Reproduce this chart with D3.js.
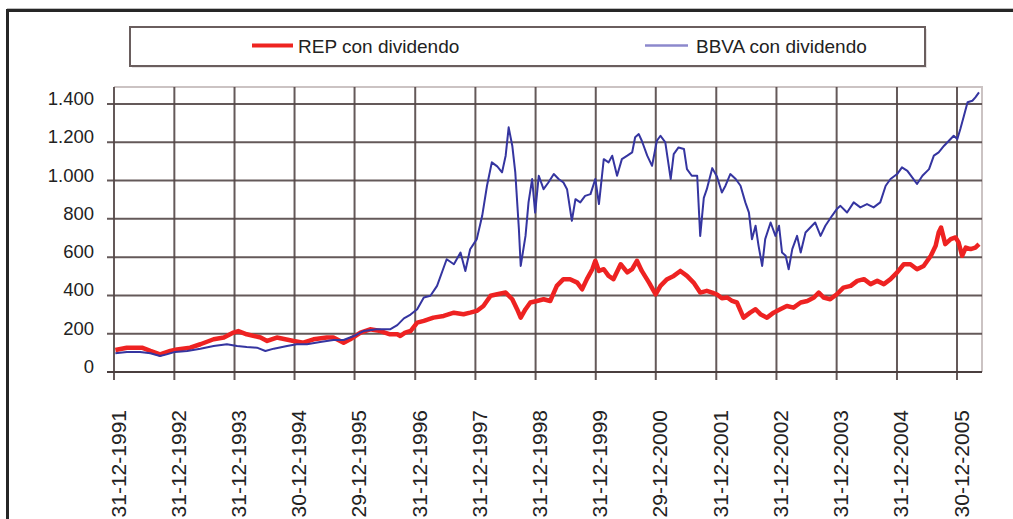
<!DOCTYPE html>
<html>
<head>
<meta charset="utf-8">
<script src="https://cdn.jsdelivr.net/npm/d3@7"></script>
<style>
  html, body { margin: 0; padding: 0; background: #fff; overflow: hidden; }
  svg { display: block; font-family: "Liberation Sans", Arial, sans-serif; }
</style>
</head>
<body>
<svg id="chart" width="1013" height="519"></svg>
<script>
// ---------- DATA ----------
const seriesNames = ["REP con dividendo", "BBVA con dividendo"];

const tickLabels = ["31-12-1991","31-12-1992","31-12-1993","30-12-1994","29-12-1995",
  "31-12-1996","31-12-1997","31-12-1998","31-12-1999","29-12-2000","31-12-2001",
  "31-12-2002","31-12-2003","31-12-2004","30-12-2005"];

const yTickValues = [0, 200, 400, 600, 800, 1000, 1200, 1400];

const repYears = [1992.02,1992.21,1992.46,1992.60,1992.76,1992.93,1993.04,1993.26,1993.43,1993.65,
  1993.82,1993.98,1994.06,1994.20,1994.43,1994.54,1994.70,1994.98,1995.14,1995.31,
  1995.53,1995.64,1995.81,1995.92,1996.09,1996.25,1996.42,1996.58,1996.70,1996.75,
  1996.83,1996.92,1997.03,1997.14,1997.30,1997.47,1997.64,1997.80,1997.91,1998.02,
  1998.13,1998.25,1998.36,1998.50,1998.61,1998.69,1998.75,1998.83,1998.91,1999.02,
  1999.13,1999.24,1999.35,1999.46,1999.57,1999.69,1999.77,1999.85,1999.94,1999.99,
  2000.05,2000.13,2000.21,2000.29,2000.41,2000.52,2000.60,2000.68,2000.76,2000.88,
  2000.99,2001.07,2001.18,2001.29,2001.40,2001.51,2001.62,2001.73,2001.84,2001.93,
  2002.01,2002.09,2002.18,2002.26,2002.34,2002.45,2002.56,2002.65,2002.73,2002.84,
  2002.95,2003.06,2003.17,2003.28,2003.40,2003.51,2003.62,2003.70,2003.78,2003.89,
  2004.00,2004.11,2004.23,2004.34,2004.45,2004.56,2004.67,2004.78,2004.89,2005.00,
  2005.11,2005.22,2005.33,2005.44,2005.56,2005.64,2005.69,2005.73,2005.80,2005.89,
  2005.97,2006.02,2006.08,2006.14,2006.22,2006.30,2006.36];
const repValues = [115,127,127,110,92,110,118,127,145,171,
  180,206,214,197,180,162,180,162,153,171,
  180,180,153,171,206,223,214,197,197,188,
  206,214,258,267,284,293,310,302,310,319,
  345,398,406,415,380,328,284,328,363,371,
  380,371,450,485,485,467,432,485,537,581,
  528,537,502,485,563,520,537,581,528,467,
  406,450,485,502,528,502,467,415,424,415,
  405,385,389,371,363,284,310,328,302,284,
  310,328,345,336,363,371,389,415,389,380,
  406,441,450,476,485,459,476,459,485,520,
  563,563,537,554,607,659,729,755,668,694,
  703,677,607,650,642,650,668];

const bbvaYears = [1992.02,1992.21,1992.43,1992.60,1992.76,1992.87,1993.01,1993.21,1993.43,1993.65,
  1993.87,1994.04,1994.20,1994.37,1994.51,1994.65,1994.87,1995.03,1995.20,1995.42,
  1995.64,1995.81,1995.98,1996.14,1996.36,1996.58,1996.70,1996.81,1996.92,1997.03,
  1997.14,1997.25,1997.36,1997.52,1997.64,1997.75,1997.83,1997.91,1998.02,1998.11,
  1998.19,1998.27,1998.36,1998.44,1998.50,1998.55,1998.61,1998.66,1998.72,1998.75,
  1998.83,1998.88,1998.94,1998.99,1999.05,1999.13,1999.21,1999.30,1999.38,1999.46,
  1999.52,1999.60,1999.66,1999.74,1999.82,1999.91,1999.99,2000.05,2000.13,2000.21,
  2000.27,2000.35,2000.43,2000.52,2000.60,2000.65,2000.71,2000.76,2000.85,2000.93,
  2001.01,2001.07,2001.15,2001.24,2001.29,2001.37,2001.46,2001.51,2001.59,2001.68,
  2001.73,2001.79,2001.84,2001.93,2002.01,2002.09,2002.15,2002.23,2002.32,2002.40,
  2002.48,2002.54,2002.59,2002.65,2002.70,2002.76,2002.81,2002.90,2002.98,2003.04,
  2003.09,2003.15,2003.20,2003.26,2003.34,2003.40,2003.48,2003.56,2003.64,2003.73,
  2003.81,2003.92,2004.00,2004.06,2004.17,2004.28,2004.39,2004.50,2004.61,2004.72,
  2004.81,2004.89,2005.00,2005.08,2005.17,2005.25,2005.33,2005.42,2005.53,2005.61,
  2005.69,2005.78,2005.86,2005.94,2006.00,2006.05,2006.11,2006.17,2006.25,2006.30,
  2006.36];
const bbvaValues = [98,105,105,98,84,92,105,110,122,136,
  145,136,131,127,110,122,136,145,145,157,
  167,167,188,214,223,223,245,280,300,328,
  389,398,450,589,563,624,528,641,694,816,
  973,1095,1074,1043,1130,1278,1182,1043,746,554,
  711,886,1008,833,1025,955,990,1034,1008,990,
  955,790,903,886,920,929,1008,877,1112,1095,
  1130,1025,1112,1130,1147,1226,1243,1208,1130,1077,
  1208,1234,1200,1008,1138,1173,1165,1060,1025,1025,
  711,910,955,1065,1020,938,973,1034,1008,973,
  886,833,694,764,659,554,694,781,711,764,
  624,607,537,642,711,624,729,755,781,711,
  764,816,851,868,833,886,860,877,860,886,
  973,1008,1034,1069,1051,1017,982,1025,1060,1130,
  1147,1182,1208,1234,1217,1269,1339,1409,1417,1435,
  1461];

// ---------- HELPERS ----------
function parseTick(s) { const [d, m, y] = s.split("-").map(Number); return new Date(y, m - 1, d); }
function fromDecimalYear(v) {
  const y = Math.floor(v);
  const start = new Date(y, 0, 1), end = new Date(y + 1, 0, 1);
  return new Date(start.getTime() + (v - y) * (end - start));
}
const tickDates = tickLabels.map(parseTick);

const repData = repYears.map((t, i) => ({ date: fromDecimalYear(t), value: repValues[i] }));
const bbvaData = bbvaYears.map((t, i) => ({ date: fromDecimalYear(t), value: bbvaValues[i] }));

// ---------- LAYOUT ----------
const svg = d3.select("#chart");
const plotLeft = 114, firstTickX = 114, lastTickX = 957, plotRight = 982;
const plotTop = 87, plotBottom = 372;

const x = d3.scaleTime()
  .domain([tickDates[0], tickDates[tickDates.length - 1]])
  .range([firstTickX, lastTickX]);
const y = d3.scaleLinear().domain([0, 1400]).range([plotBottom, 104]);

const locale = d3.formatLocale({ decimal: ",", thousands: ".", grouping: [3], currency: ["", " €"] });
const fmt = locale.format(",");

// outer frame
svg.append("line").attr("x1", 7).attr("x2", 1013).attr("y1", 8.5).attr("y2", 8.5)
  .attr("stroke", "#bdbdbd").attr("stroke-width", 1);
svg.append("path").attr("d", "M7.5,540 V10.5 H1020")
  .attr("fill", "none").attr("stroke", "#262626").attr("stroke-width", 3);

// legend
const lg = svg.append("g");
lg.append("rect").attr("x", 132).attr("y", 29).attr("width", 795).attr("height", 39)
  .attr("fill", "#d6d0d0").attr("opacity", 0.6);
lg.append("rect").attr("x", 130).attr("y", 27).attr("width", 795).attr("height", 39)
  .attr("fill", "#fff").attr("stroke", "#6a5e5e").attr("stroke-width", 2);
const legendItems = [
  { name: seriesNames[0], x1: 252, x2: 293, tx: 298, color: "#ee2420", w: 4 },
  { name: seriesNames[1], x1: 645, x2: 688, tx: 696, color: "#8c88cc", w: 2.5 }
];
legendItems.forEach(d => {
  lg.append("line").attr("x1", d.x1).attr("x2", d.x2).attr("y1", 45.5).attr("y2", 45.5)
    .attr("stroke", d.color).attr("stroke-width", d.w);
  lg.append("text").attr("x", d.tx).attr("y", 53).attr("font-size", "19px")
    .attr("fill", "#222").text(d.name);
});

// plot frame (light)
svg.append("path")
  .attr("d", `M${plotLeft},${plotTop} H${plotRight} V${plotBottom}`)
  .attr("fill", "none").attr("stroke", "#cbc3c3").attr("stroke-width", 2);

// horizontal gridlines
const gridColor = "#544848";
svg.append("g").selectAll("line").data(yTickValues).join("line")
  .attr("x1", 107).attr("x2", plotRight)
  .attr("y1", d => y(d)).attr("y2", d => y(d))
  .attr("stroke", gridColor).attr("stroke-width", 2).attr("opacity", 0.9);

// vertical gridlines + ticks
svg.append("g").selectAll("line").data(tickDates).join("line")
  .attr("x1", d => x(d)).attr("x2", d => x(d))
  .attr("y1", plotTop).attr("y2", 380)
  .attr("stroke", gridColor).attr("stroke-width", 2).attr("opacity", 0.9);

// x axis baseline
svg.append("line").attr("x1", 107).attr("x2", plotRight).attr("y1", plotBottom).attr("y2", plotBottom)
  .attr("stroke", "#4a3f3f").attr("stroke-width", 2.2);

// y labels
svg.append("g").selectAll("text").data(yTickValues).join("text")
  .attr("x", 94).attr("y", d => y(d) + 1)
  .attr("text-anchor", "end").attr("font-size", "18.5px").attr("fill", "#222")
  .text(d => fmt(d));

// x labels (rotated)
svg.append("g").selectAll("text").data(tickDates).join("text")
  .attr("transform", (d) => `translate(${x(d) + 11.5},410) rotate(-90)`)
  .attr("text-anchor", "end").attr("font-size", "21px").attr("fill", "#222")
  .text((d, i) => tickLabels[i]);

// lines
const defs = svg.append("defs");
defs.append("filter").attr("id", "soft").append("feGaussianBlur").attr("stdDeviation", 0.5);

const line = d3.line().x(d => x(d.date)).y(d => y(d.value));
svg.append("path").datum(repData).attr("d", line)
  .attr("fill", "none").attr("stroke", "#ee2420").attr("stroke-width", 4.5)
  .attr("stroke-linejoin", "round").attr("filter", "url(#soft)");
svg.append("path").datum(bbvaData).attr("d", line)
  .attr("fill", "none").attr("stroke", "#3434a0").attr("stroke-width", 2)
  .attr("stroke-linejoin", "round").attr("filter", "url(#soft)");
</script>
</body>
</html>
